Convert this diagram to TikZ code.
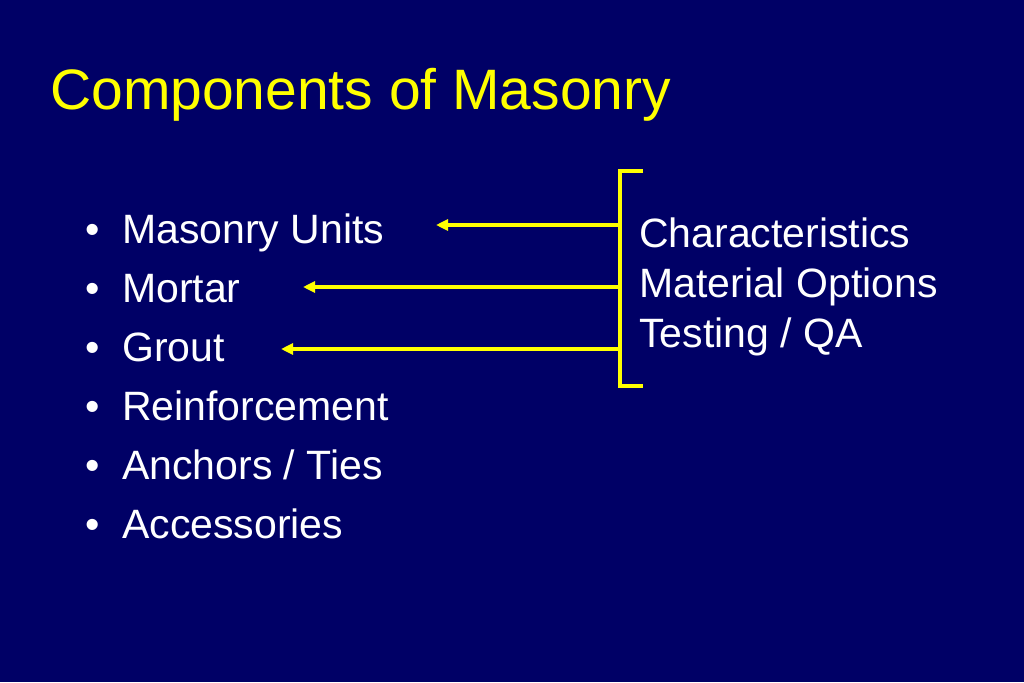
\documentclass[tikz,border=0pt]{standalone}
\usepackage{fontspec}
\setmainfont{Liberation Sans}
\usetikzlibrary{arrows.meta}
\definecolor{bg}{RGB}{0,0,102}
\definecolor{yel}{RGB}{255,255,0}
\begin{document}
\begin{tikzpicture}[x=1pt,y=-1pt,
  titletext/.style={anchor=base west, inner sep=0pt, text=yel, font=\fontsize{57}{60}\selectfont},
  item/.style={anchor=base west, inner sep=0pt, text=white, font=\fontsize{41}{44}\selectfont},
  bul/.style={anchor=base, inner sep=0pt, text=white, font=\fontsize{41}{44}\selectfont},
  side/.style={anchor=base west, inner sep=0pt, text=white, font=\fontsize{41}{44}\selectfont},
  link/.style={draw=yel, line width=3.5pt, -{Triangle[length=12pt,width=11pt]}},
  brk/.style={draw=yel, line width=3.5pt}]
\fill[bg] (0,0) rectangle (1024,682);
\useasboundingbox (0,0) rectangle (1024,682);

\node[titletext] (title) at (50,110) {Components of Masonry};

\foreach \name/\txt/\yy in {i1/{Masonry Units}/243, i2/{Mortar}/302, i3/{Grout}/361, i4/{Reinforcement}/420, i5/{Anchors / Ties}/479, i6/{Accessories}/538}{
  \node[bul] (b\name) at (93,\yy) {\textbullet};
  \node[item] (\name) at (122,\yy) {\txt};
}

\node[side] (s1) at (639,247) {Characteristics};
\node[side] (s2) at (639,297) {Material Options};
\node[side] (s3) at (639,347) {Testing / QA};

\coordinate (btop) at (643,171);
\coordinate (bbot) at (643,386);
\coordinate (k1) at (620,225);
\coordinate (k2) at (620,287);
\coordinate (k3) at (620,349);
\coordinate (e1) at (436,225);
\coordinate (e2) at (303,287);
\coordinate (e3) at (281,349);

\draw[brk] (btop) -| (bbot -| k1) -- (bbot);
\draw[link] (k1) -- (e1);
\draw[link] (k2) -- (e2);
\draw[link] (k3) -- (e3);
\end{tikzpicture}
\end{document}
